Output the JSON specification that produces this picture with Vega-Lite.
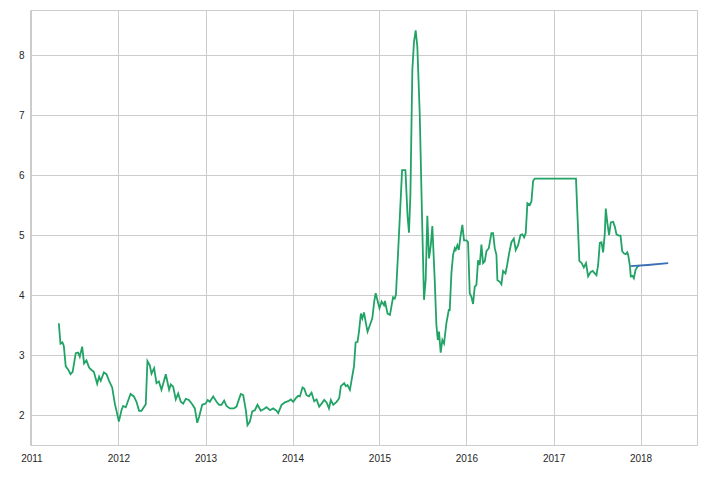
{
  "$schema": "https://vega.github.io/schema/vega-lite/v6.json",
  "width": 667,
  "height": 435,
  "autosize": {"type": "none"},
  "padding": {"left": 30, "top": 10, "right": 24, "bottom": 32},
  "background": "white",
  "config": {
    "view": {"stroke": "#cccccc", "strokeWidth": 1},
    "font": "Liberation Sans",
    "axis": {
      "grid": true,
      "gridColor": "#cccccc",
      "gridWidth": 1,
      "domain": false,
      "ticks": false,
      "labelFont": "Liberation Sans",
      "labelFontSize": 10,
      "labelColor": "#262626",
      "title": null
    }
  },
  "data": {
    "values": [
      {"date": "2011-04-26", "value": 3.53, "series": "actual"},
      {"date": "2011-05-03", "value": 3.19, "series": "actual"},
      {"date": "2011-05-11", "value": 3.21, "series": "actual"},
      {"date": "2011-05-17", "value": 3.15, "series": "actual"},
      {"date": "2011-05-25", "value": 2.81, "series": "actual"},
      {"date": "2011-06-04", "value": 2.76, "series": "actual"},
      {"date": "2011-06-14", "value": 2.68, "series": "actual"},
      {"date": "2011-06-23", "value": 2.72, "series": "actual"},
      {"date": "2011-07-06", "value": 3.03, "series": "actual"},
      {"date": "2011-07-16", "value": 3.04, "series": "actual"},
      {"date": "2011-07-23", "value": 2.97, "series": "actual"},
      {"date": "2011-08-02", "value": 3.14, "series": "actual"},
      {"date": "2011-08-10", "value": 2.86, "series": "actual"},
      {"date": "2011-08-20", "value": 2.91, "series": "actual"},
      {"date": "2011-08-31", "value": 2.79, "series": "actual"},
      {"date": "2011-09-10", "value": 2.75, "series": "actual"},
      {"date": "2011-09-20", "value": 2.72, "series": "actual"},
      {"date": "2011-10-04", "value": 2.52, "series": "actual"},
      {"date": "2011-10-12", "value": 2.64, "series": "actual"},
      {"date": "2011-10-19", "value": 2.57, "series": "actual"},
      {"date": "2011-11-01", "value": 2.71, "series": "actual"},
      {"date": "2011-11-12", "value": 2.68, "series": "actual"},
      {"date": "2011-11-23", "value": 2.57, "series": "actual"},
      {"date": "2011-12-06", "value": 2.46, "series": "actual"},
      {"date": "2011-12-17", "value": 2.19, "series": "actual"},
      {"date": "2011-12-24", "value": 2.07, "series": "actual"},
      {"date": "2012-01-03", "value": 1.89, "series": "actual"},
      {"date": "2012-01-14", "value": 2.08, "series": "actual"},
      {"date": "2012-01-21", "value": 2.15, "series": "actual"},
      {"date": "2012-02-01", "value": 2.13, "series": "actual"},
      {"date": "2012-02-21", "value": 2.35, "series": "actual"},
      {"date": "2012-03-06", "value": 2.31, "series": "actual"},
      {"date": "2012-03-17", "value": 2.22, "series": "actual"},
      {"date": "2012-03-28", "value": 2.07, "series": "actual"},
      {"date": "2012-04-07", "value": 2.07, "series": "actual"},
      {"date": "2012-04-25", "value": 2.18, "series": "actual"},
      {"date": "2012-05-02", "value": 2.90, "series": "actual"},
      {"date": "2012-05-12", "value": 2.83, "series": "actual"},
      {"date": "2012-05-19", "value": 2.69, "series": "actual"},
      {"date": "2012-05-30", "value": 2.78, "series": "actual"},
      {"date": "2012-06-09", "value": 2.53, "series": "actual"},
      {"date": "2012-06-19", "value": 2.56, "series": "actual"},
      {"date": "2012-06-30", "value": 2.42, "series": "actual"},
      {"date": "2012-07-18", "value": 2.68, "series": "actual"},
      {"date": "2012-08-01", "value": 2.42, "series": "actual"},
      {"date": "2012-08-08", "value": 2.51, "series": "actual"},
      {"date": "2012-08-18", "value": 2.47, "series": "actual"},
      {"date": "2012-08-29", "value": 2.26, "series": "actual"},
      {"date": "2012-09-08", "value": 2.36, "series": "actual"},
      {"date": "2012-09-19", "value": 2.22, "series": "actual"},
      {"date": "2012-09-29", "value": 2.19, "series": "actual"},
      {"date": "2012-10-10", "value": 2.27, "series": "actual"},
      {"date": "2012-10-23", "value": 2.25, "series": "actual"},
      {"date": "2012-11-06", "value": 2.18, "series": "actual"},
      {"date": "2012-11-17", "value": 2.11, "series": "actual"},
      {"date": "2012-11-27", "value": 1.87, "series": "actual"},
      {"date": "2012-12-05", "value": 1.97, "series": "actual"},
      {"date": "2012-12-18", "value": 2.17, "series": "actual"},
      {"date": "2013-01-01", "value": 2.19, "series": "actual"},
      {"date": "2013-01-10", "value": 2.25, "series": "actual"},
      {"date": "2013-01-19", "value": 2.22, "series": "actual"},
      {"date": "2013-02-02", "value": 2.31, "series": "actual"},
      {"date": "2013-02-16", "value": 2.22, "series": "actual"},
      {"date": "2013-02-27", "value": 2.17, "series": "actual"},
      {"date": "2013-03-09", "value": 2.17, "series": "actual"},
      {"date": "2013-03-20", "value": 2.24, "series": "actual"},
      {"date": "2013-03-30", "value": 2.15, "series": "actual"},
      {"date": "2013-04-13", "value": 2.11, "series": "actual"},
      {"date": "2013-04-30", "value": 2.11, "series": "actual"},
      {"date": "2013-05-11", "value": 2.14, "series": "actual"},
      {"date": "2013-05-21", "value": 2.26, "series": "actual"},
      {"date": "2013-05-29", "value": 2.35, "series": "actual"},
      {"date": "2013-06-08", "value": 2.33, "series": "actual"},
      {"date": "2013-06-19", "value": 2.08, "series": "actual"},
      {"date": "2013-06-26", "value": 1.83, "series": "actual"},
      {"date": "2013-07-06", "value": 1.89, "series": "actual"},
      {"date": "2013-07-16", "value": 2.06, "series": "actual"},
      {"date": "2013-07-27", "value": 2.08, "series": "actual"},
      {"date": "2013-08-07", "value": 2.17, "series": "actual"},
      {"date": "2013-08-21", "value": 2.07, "series": "actual"},
      {"date": "2013-09-03", "value": 2.10, "series": "actual"},
      {"date": "2013-09-14", "value": 2.13, "series": "actual"},
      {"date": "2013-09-28", "value": 2.08, "series": "actual"},
      {"date": "2013-10-12", "value": 2.11, "series": "actual"},
      {"date": "2013-10-26", "value": 2.07, "series": "actual"},
      {"date": "2013-11-02", "value": 2.03, "series": "actual"},
      {"date": "2013-11-16", "value": 2.17, "series": "actual"},
      {"date": "2013-11-30", "value": 2.21, "series": "actual"},
      {"date": "2013-12-14", "value": 2.23, "series": "actual"},
      {"date": "2013-12-25", "value": 2.26, "series": "actual"},
      {"date": "2014-01-04", "value": 2.22, "series": "actual"},
      {"date": "2014-01-15", "value": 2.28, "series": "actual"},
      {"date": "2014-01-25", "value": 2.32, "series": "actual"},
      {"date": "2014-02-01", "value": 2.31, "series": "actual"},
      {"date": "2014-02-12", "value": 2.46, "series": "actual"},
      {"date": "2014-02-19", "value": 2.44, "series": "actual"},
      {"date": "2014-03-01", "value": 2.33, "series": "actual"},
      {"date": "2014-03-11", "value": 2.31, "series": "actual"},
      {"date": "2014-03-22", "value": 2.37, "series": "actual"},
      {"date": "2014-04-02", "value": 2.23, "series": "actual"},
      {"date": "2014-04-12", "value": 2.26, "series": "actual"},
      {"date": "2014-04-23", "value": 2.14, "series": "actual"},
      {"date": "2014-05-03", "value": 2.19, "series": "actual"},
      {"date": "2014-05-14", "value": 2.25, "series": "actual"},
      {"date": "2014-05-24", "value": 2.21, "series": "actual"},
      {"date": "2014-06-03", "value": 2.11, "series": "actual"},
      {"date": "2014-06-11", "value": 2.25, "series": "actual"},
      {"date": "2014-06-21", "value": 2.17, "series": "actual"},
      {"date": "2014-07-05", "value": 2.22, "series": "actual"},
      {"date": "2014-07-16", "value": 2.28, "series": "actual"},
      {"date": "2014-07-23", "value": 2.48, "series": "actual"},
      {"date": "2014-08-06", "value": 2.53, "series": "actual"},
      {"date": "2014-08-13", "value": 2.48, "series": "actual"},
      {"date": "2014-08-20", "value": 2.50, "series": "actual"},
      {"date": "2014-08-30", "value": 2.42, "series": "actual"},
      {"date": "2014-09-06", "value": 2.58, "series": "actual"},
      {"date": "2014-09-16", "value": 2.81, "series": "actual"},
      {"date": "2014-09-23", "value": 3.21, "series": "actual"},
      {"date": "2014-10-01", "value": 3.22, "series": "actual"},
      {"date": "2014-10-07", "value": 3.39, "series": "actual"},
      {"date": "2014-10-15", "value": 3.69, "series": "actual"},
      {"date": "2014-10-21", "value": 3.61, "series": "actual"},
      {"date": "2014-10-28", "value": 3.71, "series": "actual"},
      {"date": "2014-11-05", "value": 3.53, "series": "actual"},
      {"date": "2014-11-12", "value": 3.39, "series": "actual"},
      {"date": "2014-11-22", "value": 3.50, "series": "actual"},
      {"date": "2014-12-02", "value": 3.61, "series": "actual"},
      {"date": "2014-12-10", "value": 3.89, "series": "actual"},
      {"date": "2014-12-16", "value": 4.03, "series": "actual"},
      {"date": "2014-12-23", "value": 3.92, "series": "actual"},
      {"date": "2015-01-01", "value": 3.78, "series": "actual"},
      {"date": "2015-01-10", "value": 3.89, "series": "actual"},
      {"date": "2015-01-20", "value": 3.83, "series": "actual"},
      {"date": "2015-01-24", "value": 3.90, "series": "actual"},
      {"date": "2015-02-04", "value": 3.69, "series": "actual"},
      {"date": "2015-02-14", "value": 3.67, "series": "actual"},
      {"date": "2015-02-27", "value": 3.96, "series": "actual"},
      {"date": "2015-03-06", "value": 3.94, "series": "actual"},
      {"date": "2015-03-11", "value": 4.00, "series": "actual"},
      {"date": "2015-03-20", "value": 4.69, "series": "actual"},
      {"date": "2015-04-06", "value": 6.08, "series": "actual"},
      {"date": "2015-04-20", "value": 6.08, "series": "actual"},
      {"date": "2015-04-29", "value": 5.31, "series": "actual"},
      {"date": "2015-05-05", "value": 5.04, "series": "actual"},
      {"date": "2015-05-11", "value": 5.69, "series": "actual"},
      {"date": "2015-05-19", "value": 7.75, "series": "actual"},
      {"date": "2015-05-26", "value": 8.22, "series": "actual"},
      {"date": "2015-06-02", "value": 8.41, "series": "actual"},
      {"date": "2015-06-09", "value": 8.14, "series": "actual"},
      {"date": "2015-06-19", "value": 7.03, "series": "actual"},
      {"date": "2015-06-29", "value": 5.25, "series": "actual"},
      {"date": "2015-07-07", "value": 3.92, "series": "actual"},
      {"date": "2015-07-14", "value": 4.25, "series": "actual"},
      {"date": "2015-07-21", "value": 5.32, "series": "actual"},
      {"date": "2015-07-28", "value": 4.61, "series": "actual"},
      {"date": "2015-08-04", "value": 4.81, "series": "actual"},
      {"date": "2015-08-11", "value": 5.15, "series": "actual"},
      {"date": "2015-08-21", "value": 4.25, "series": "actual"},
      {"date": "2015-08-28", "value": 3.50, "series": "actual"},
      {"date": "2015-09-03", "value": 3.25, "series": "actual"},
      {"date": "2015-09-08", "value": 3.39, "series": "actual"},
      {"date": "2015-09-15", "value": 3.04, "series": "actual"},
      {"date": "2015-09-22", "value": 3.25, "series": "actual"},
      {"date": "2015-09-29", "value": 3.19, "series": "actual"},
      {"date": "2015-10-09", "value": 3.53, "series": "actual"},
      {"date": "2015-10-19", "value": 3.75, "series": "actual"},
      {"date": "2015-10-23", "value": 3.75, "series": "actual"},
      {"date": "2015-10-30", "value": 4.36, "series": "actual"},
      {"date": "2015-11-06", "value": 4.67, "series": "actual"},
      {"date": "2015-11-13", "value": 4.78, "series": "actual"},
      {"date": "2015-11-17", "value": 4.75, "series": "actual"},
      {"date": "2015-11-24", "value": 4.83, "series": "actual"},
      {"date": "2015-11-30", "value": 4.75, "series": "actual"},
      {"date": "2015-12-07", "value": 4.97, "series": "actual"},
      {"date": "2015-12-15", "value": 5.17, "series": "actual"},
      {"date": "2015-12-22", "value": 4.91, "series": "actual"},
      {"date": "2016-01-01", "value": 4.91, "series": "actual"},
      {"date": "2016-01-08", "value": 4.88, "series": "actual"},
      {"date": "2016-01-15", "value": 4.03, "series": "actual"},
      {"date": "2016-01-22", "value": 3.97, "series": "actual"},
      {"date": "2016-01-29", "value": 3.85, "series": "actual"},
      {"date": "2016-02-05", "value": 4.14, "series": "actual"},
      {"date": "2016-02-12", "value": 4.17, "series": "actual"},
      {"date": "2016-02-19", "value": 4.58, "series": "actual"},
      {"date": "2016-02-26", "value": 4.50, "series": "actual"},
      {"date": "2016-03-04", "value": 4.84, "series": "actual"},
      {"date": "2016-03-11", "value": 4.53, "series": "actual"},
      {"date": "2016-03-18", "value": 4.56, "series": "actual"},
      {"date": "2016-03-25", "value": 4.73, "series": "actual"},
      {"date": "2016-04-04", "value": 4.78, "series": "actual"},
      {"date": "2016-04-15", "value": 5.03, "series": "actual"},
      {"date": "2016-04-22", "value": 5.03, "series": "actual"},
      {"date": "2016-04-29", "value": 4.78, "series": "actual"},
      {"date": "2016-05-06", "value": 4.67, "series": "actual"},
      {"date": "2016-05-10", "value": 4.25, "series": "actual"},
      {"date": "2016-05-20", "value": 4.22, "series": "actual"},
      {"date": "2016-05-27", "value": 4.18, "series": "actual"},
      {"date": "2016-06-03", "value": 4.40, "series": "actual"},
      {"date": "2016-06-13", "value": 4.36, "series": "actual"},
      {"date": "2016-06-20", "value": 4.50, "series": "actual"},
      {"date": "2016-06-28", "value": 4.69, "series": "actual"},
      {"date": "2016-07-08", "value": 4.88, "series": "actual"},
      {"date": "2016-07-18", "value": 4.94, "series": "actual"},
      {"date": "2016-07-26", "value": 4.75, "series": "actual"},
      {"date": "2016-08-05", "value": 4.83, "series": "actual"},
      {"date": "2016-08-15", "value": 5.00, "series": "actual"},
      {"date": "2016-08-23", "value": 5.01, "series": "actual"},
      {"date": "2016-08-30", "value": 4.96, "series": "actual"},
      {"date": "2016-09-06", "value": 5.03, "series": "actual"},
      {"date": "2016-09-13", "value": 5.53, "series": "actual"},
      {"date": "2016-09-23", "value": 5.50, "series": "actual"},
      {"date": "2016-09-30", "value": 5.56, "series": "actual"},
      {"date": "2016-10-07", "value": 5.90, "series": "actual"},
      {"date": "2016-10-14", "value": 5.94, "series": "actual"},
      {"date": "2017-01-06", "value": 5.94, "series": "actual"},
      {"date": "2017-04-05", "value": 5.94, "series": "actual"},
      {"date": "2017-04-19", "value": 4.57, "series": "actual"},
      {"date": "2017-04-29", "value": 4.53, "series": "actual"},
      {"date": "2017-05-08", "value": 4.46, "series": "actual"},
      {"date": "2017-05-17", "value": 4.53, "series": "actual"},
      {"date": "2017-05-26", "value": 4.31, "series": "actual"},
      {"date": "2017-06-05", "value": 4.38, "series": "actual"},
      {"date": "2017-06-14", "value": 4.40, "series": "actual"},
      {"date": "2017-06-23", "value": 4.36, "series": "actual"},
      {"date": "2017-06-30", "value": 4.33, "series": "actual"},
      {"date": "2017-07-07", "value": 4.50, "series": "actual"},
      {"date": "2017-07-14", "value": 4.87, "series": "actual"},
      {"date": "2017-07-21", "value": 4.88, "series": "actual"},
      {"date": "2017-07-28", "value": 4.71, "series": "actual"},
      {"date": "2017-08-04", "value": 5.03, "series": "actual"},
      {"date": "2017-08-08", "value": 5.44, "series": "actual"},
      {"date": "2017-08-15", "value": 5.19, "series": "actual"},
      {"date": "2017-08-22", "value": 5.00, "series": "actual"},
      {"date": "2017-08-29", "value": 5.21, "series": "actual"},
      {"date": "2017-09-08", "value": 5.22, "series": "actual"},
      {"date": "2017-09-15", "value": 5.14, "series": "actual"},
      {"date": "2017-09-22", "value": 5.01, "series": "actual"},
      {"date": "2017-10-02", "value": 4.99, "series": "actual"},
      {"date": "2017-10-09", "value": 4.99, "series": "actual"},
      {"date": "2017-10-16", "value": 4.73, "series": "actual"},
      {"date": "2017-10-24", "value": 4.69, "series": "actual"},
      {"date": "2017-10-31", "value": 4.68, "series": "actual"},
      {"date": "2017-11-06", "value": 4.71, "series": "actual"},
      {"date": "2017-11-10", "value": 4.67, "series": "actual"},
      {"date": "2017-11-17", "value": 4.50, "series": "actual"},
      {"date": "2017-11-21", "value": 4.31, "series": "actual"},
      {"date": "2017-11-28", "value": 4.32, "series": "actual"},
      {"date": "2017-12-04", "value": 4.28, "series": "actual"},
      {"date": "2017-12-11", "value": 4.42, "series": "actual"},
      {"date": "2017-12-19", "value": 4.47, "series": "actual"},
      {"date": "2017-12-26", "value": 4.49, "series": "actual"},
      {"date": "2017-11-21", "value": 4.48, "series": "forecast"},
      {"date": "2018-01-31", "value": 4.50, "series": "forecast"},
      {"date": "2018-04-27", "value": 4.53, "series": "forecast"}
    ]
  },
  "mark": {"type": "line", "strokeWidth": 1.8, "interpolate": "linear"},
  "encoding": {
    "x": {
      "field": "date",
      "type": "temporal",
      "scale": {"domain": ["2010-12-26", "2018-08-26"], "nice": false},
      "axis": {
        "format": "%Y",
        "tickCount": {"interval": "year", "step": 1},
        "labelPadding": 8,
        "labelAngle": 0,
        "labelOverlap": false
      }
    },
    "y": {
      "field": "value",
      "type": "quantitative",
      "scale": {"domain": [1.5, 8.75], "nice": false, "zero": false},
      "axis": {"values": [2, 3, 4, 5, 6, 7, 8], "labelPadding": 6}
    },
    "color": {
      "field": "series",
      "type": "nominal",
      "scale": {"domain": ["actual", "forecast"], "range": ["#21a366", "#3d6fb6"]},
      "legend": null
    },
    "order": {"field": "date", "type": "temporal"}
  }
}
